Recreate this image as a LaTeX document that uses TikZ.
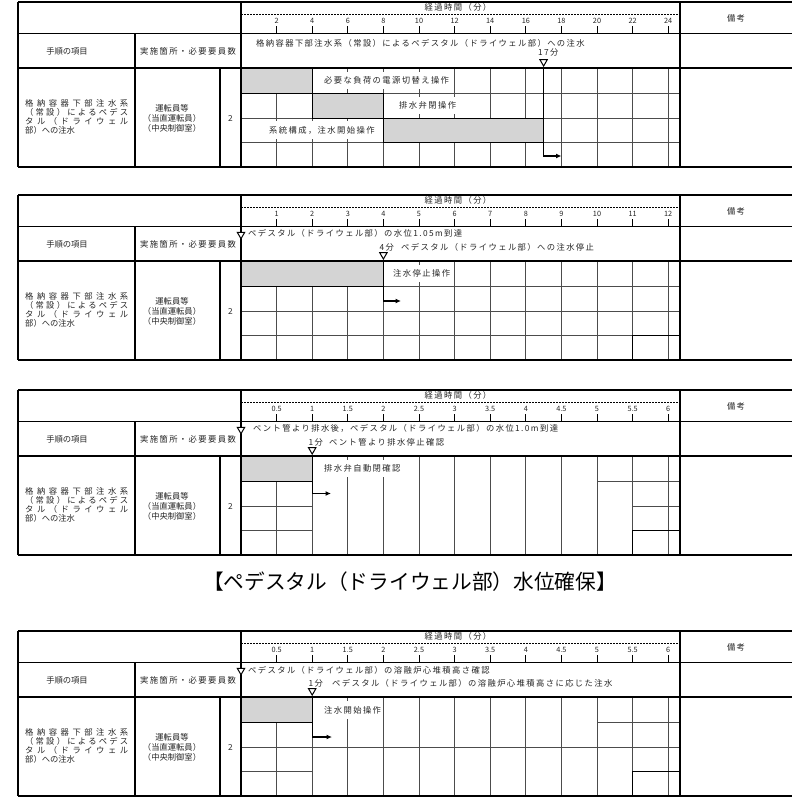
\documentclass[tikz,border=0pt]{standalone}
\usepackage{fontspec}
\newfontfamily\jp{Noto Sans CJK JP}[LetterSpace=17]
\newfontfamily\jpn{Noto Sans CJK JP}
\usetikzlibrary{shapes.geometric,arrows.meta}
\makeatletter
\newcommand\spreadline[2]{\makebox[#1][s]{\spr@a#2\@nil}}
\def\spr@a#1#2\@nil{#1\ifx\relax#2\relax\else\hfil\spr@a#2\@nil\fi}
\makeatother
\tikzset{
  frm/.style={line width=1.1pt, draw=black},
  frmb/.style={line width=1.8pt, draw=black},
  grd/.style={line width=0.7pt, draw=black!70},
  grdk/.style={line width=0.9pt, draw=black},
  dsh/.style={line width=0.9pt, dash pattern=on 1.8pt off 1.2pt},
  tk/.style={line width=0.9pt},
  gbar/.style={draw=black, line width=1pt, fill=black!17},
  lbl/.style={font=\jp\fontsize{8.3}{8.3}\selectfont, text=black!85, inner sep=0pt},
  lbl2/.style={font=\jpn\fontsize{8.3}{8.3}\selectfont, text=black!85, inner sep=0pt},
  tlab/.style={font=\jpn\fontsize{7.3}{7.3}\selectfont, text=black!85, inner sep=0pt},
  oplbl/.style={lbl, fill=white, inner xsep=2pt, inner ysep=5pt, anchor=west},
  hlbl/.style={lbl, anchor=west},
  tri/.style={regular polygon, regular polygon sides=3, shape border rotate=180,
    draw=black, fill=white, line width=1pt, minimum size=8.5pt, inner sep=0pt},
  arr/.style={line width=1.3pt, -{Latex[length=5.5pt,width=5pt]}},
}
\newcommand\tframe[2]{%
  \draw[frm] (18,0) -- (792,0);
  \draw[frm] (18,31.5) -- (792,31.5);
  \draw[frmb] (18,66) -- (792,66);
  \draw[frm] (18,165) -- (792,165);
  \draw[frm] (18,0) -- (18,165);
  \draw[frm] (241,0) -- (241,165);
  \draw[frm] (680,0) -- (680,165);
  \draw[frm] (135,31.5) -- (135,165);
  \draw[frm] (220,66) -- (220,165);
  \draw[dsh] (241,12.5) -- (680,12.5);
  \foreach \i in {1,...,12} \draw[tk] ({241+35.6*\i},24) -- ({241+35.6*\i},31.5);
  \foreach \lab [count=\i] in {#2} \node[tlab] (#1-t\i) at ({241+35.6*\i},18.5) {\lab};
  \node[lbl] (#1-time) at (458,5.5) {経過時間（分）};
  \node[lbl] (#1-note) at (736,16) {備考};
  \node[lbl2] (#1-item) at (67,49) {手順の項目};
  \node[lbl] (#1-place) at (188,49) {実施箇所・必要要員数};
  \node[lbl2, anchor=west] (#1-p1) at (25,101) {\spreadline{103pt}{格納容器下部注水系}};
  \node[lbl2, anchor=west] (#1-p2) at (25,110) {\spreadline{103pt}{（常設）によるペデス}};
  \node[lbl2, anchor=west] (#1-p3) at (25,119) {\spreadline{103pt}{タル（ドライウェル}};
  \node[lbl2, anchor=west] (#1-p4) at (25,128) {部）への注水};
  \node[lbl2] (#1-s1) at (172,106) {運転員等};
  \node[lbl2] (#1-s2) at (172,116) {（当直運転員）};
  \node[lbl2] (#1-s3) at (172,126) {（中央制御室）};
  \node[lbl2] (#1-n) at (230.5,116) {2};
}
\begin{document}
\begin{tikzpicture}[x=1pt,y=-1pt]
\useasboundingbox (0,0) rectangle (792,801);
\fill[white] (0,0) rectangle (792,801);

% ---------------- Table 1 ----------------
\begin{scope}[shift={(0,2)}]
  \foreach \yy in {91,116,140} \draw[grd] (241,\yy) -- (680,\yy);
  \foreach \i in {1,...,12} \draw[grd] ({241+35.6*\i},66) -- ({241+35.6*\i},165);
  \tframe{A}{2,4,6,8,10,12,14,16,18,20,22,24}
  \draw[gbar] (241,66) rectangle (312.2,91);
  \draw[gbar] (312.2,91) rectangle (383.4,116);
  \draw[gbar] (383.4,116) rectangle (543.6,140);
  \node[oplbl] (A-o1) at (322,78.5) {必要な負荷の電源切替え操作};
  \node[oplbl] (A-o2) at (397,103.5) {排水弁閉操作};
  \node[oplbl] (A-o3) at (267,128) {系統構成，注水開始操作};
  \node[hlbl] (A-h1) at (256,41) {格納容器下部注水系（常設）によるペデスタル（ドライウェル部）への注水};
  \node[hlbl] (A-h2) at (538,50.5) {17分};
  \node[tri] (A-m) at (543.6,59.8) {};
  \coordinate (A-e) at (561.5,154);
  \draw[arr] (A-m.south) |- (A-e);
\end{scope}

% ---------------- Table 2 ----------------
\begin{scope}[shift={(0,195)}]
  \foreach \yy in {91,116,140} \draw[grd] (241,\yy) -- (680,\yy);
  \foreach \i in {1,...,12} \draw[grd] ({241+35.6*\i},66) -- ({241+35.6*\i},165);
  \draw[grdk] (632.6,140) -- (680,140);
  \draw[grdk] (632.6,140) -- (632.6,165);
  \tframe{B}{1,2,3,4,5,6,7,8,9,10,11,12}
  \draw[gbar] (241,66) rectangle (383.4,91);
  \node[oplbl] (B-o1) at (391,78.5) {注水停止操作};
  \node[hlbl] (B-h1) at (248,38.5) {ペデスタル（ドライウェル部）の水位1.05m到達};
  \node[hlbl] (B-h2) at (379.5,52.5) {4分};
  \node[hlbl] (B-h3) at (401,52.5) {ペデスタル（ドライウェル部）への注水停止};
  \node[tri] (B-m0) at (241,39.5) {};
  \node[tri] (B-m) at (383.4,59.8) {};
  \coordinate (B-e) at (401,106);
  \draw[arr] (B-m.south) |- (B-e);
\end{scope}

% ---------------- Table 3 ----------------
\begin{scope}[shift={(0,390)}]
  \foreach \i in {2,...,12} \draw[grd] ({241+35.6*\i},66) -- ({241+35.6*\i},165);
  \draw[grd] (276.6,91) -- (276.6,165);
  \foreach \yy in {91,116,140} \draw[grd] (241,\yy) -- (312.2,\yy);
  \draw[grd] (597,91) -- (680,91);
  \draw[grd] (632.6,116) -- (680,116);
  \draw[grdk] (632.6,140) -- (680,140);
  \draw[grdk] (632.6,140) -- (632.6,165);
  \tframe{C}{0.5,1,1.5,2,2.5,3,3.5,4,4.5,5,5.5,6}
  \draw[gbar] (241,66) rectangle (312.2,91);
  \node[oplbl] (C-o1) at (322,78.5) {排水弁自動閉確認};
  \node[hlbl] (C-h1) at (253,38.5) {ベント管より排水後，ペデスタル（ドライウェル部）の水位1.0m到達};
  \node[hlbl] (C-h2) at (308.5,52.5) {1分};
  \node[hlbl] (C-h3) at (329,52.5) {ベント管より排水停止確認};
  \node[tri] (C-m0) at (241,39.5) {};
  \node[tri] (C-m) at (312.2,59.8) {};
  \coordinate (C-e) at (331,103.5);
  \draw[arr] (C-m.south) |- (C-e);
\end{scope}

% ---------------- Title ----------------
\node[font=\jpn\fontsize{20.7}{20.7}\selectfont, text=black, inner sep=0pt] (title) at (410,582) {【ペデスタル（ドライウェル部）水位確保】};

% ---------------- Table 4 ----------------
\begin{scope}[shift={(0,631)}]
  \foreach \i in {2,...,12} \draw[grd] ({241+35.6*\i},66) -- ({241+35.6*\i},165);
  \draw[grd] (276.6,91) -- (276.6,165);
  \draw[grd] (241,91) -- (312.2,91);
  \draw[grd] (597,91) -- (680,91);
  \draw[grd] (241,116) -- (680,116);
  \draw[grd] (241,140) -- (312.2,140);
  \draw[grdk] (632.6,140) -- (680,140);
  \draw[grdk] (632.6,140) -- (632.6,165);
  \tframe{D}{0.5,1,1.5,2,2.5,3,3.5,4,4.5,5,5.5,6}
  \draw[gbar] (241,66) rectangle (312.2,91);
  \node[oplbl] (D-o1) at (322,79) {注水開始操作};
  \node[hlbl] (D-h1) at (248,39) {ペデスタル（ドライウェル部）の溶融炉心堆積高さ確認};
  \node[hlbl] (D-h2) at (308.5,52.5) {1分};
  \node[hlbl] (D-h3) at (332,52.5) {ペデスタル（ドライウェル部）の溶融炉心堆積高さに応じた注水};
  \node[tri] (D-m0) at (241,39.5) {};
  \node[tri] (D-m) at (312.2,59.8) {};
  \coordinate (D-e) at (332,106);
  \draw[arr] (D-m.south) |- (D-e);
\end{scope}
\end{tikzpicture}
\end{document}
